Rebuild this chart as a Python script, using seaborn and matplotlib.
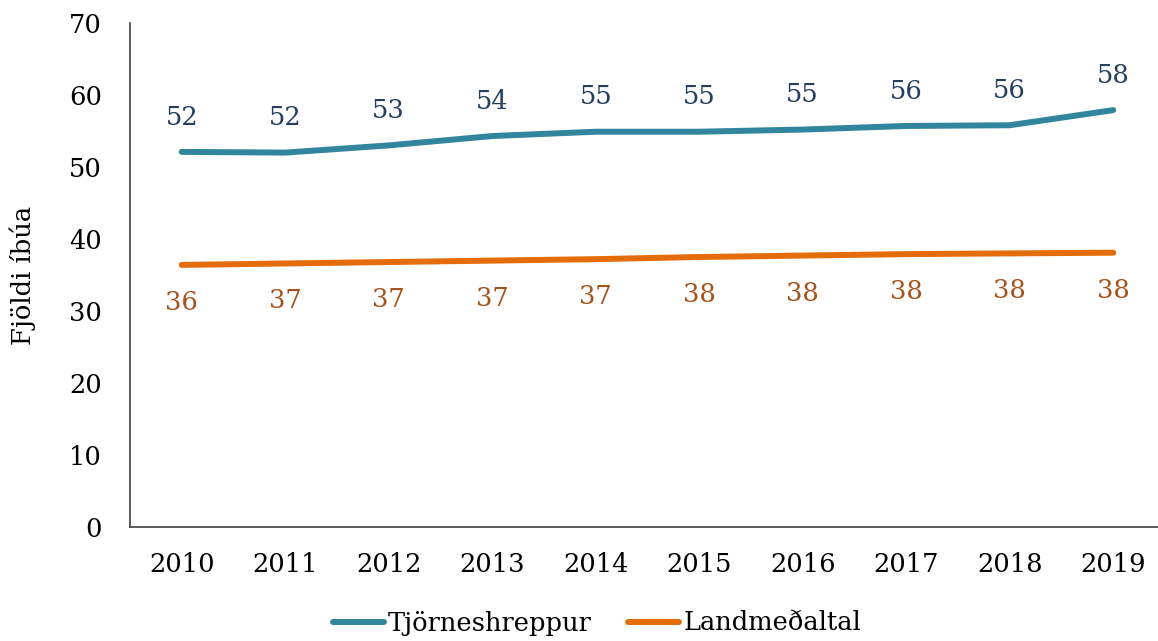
import matplotlib
matplotlib.use("Agg")
import matplotlib.pyplot as plt
import seaborn as sns
import pandas as pd

years = ["2010", "2011", "2012", "2013", "2014", "2015", "2016", "2017", "2018", "2019"]
tjornes = [52.1, 52.0, 53.0, 54.3, 54.9, 54.9, 55.2, 55.7, 55.8, 57.9]
landm = [36.4, 36.6, 36.8, 37.0, 37.2, 37.5, 37.7, 37.9, 38.0, 38.1]
series_names = ["Tjörneshreppur", "Landmeðaltal"]
line_colors = ["#31859C", "#E46C0A"]
label_colors = ["#243F60", "#A5531B"]

df = pd.DataFrame({
    "year": years * 2,
    "value": tjornes + landm,
    "series": [series_names[0]] * len(years) + [series_names[1]] * len(years),
})

sns.set_theme(style="white")
plt.rcParams["font.family"] = ["DejaVu Serif"]
plt.rcParams["text.color"] = "black"
plt.rcParams["axes.labelcolor"] = "black"

FS = 18.5

fig = plt.figure(figsize=(11.58, 6.41), dpi=100)
ax = fig.add_axes([130 / 1158, 114 / 641, 1035 / 1158, 504 / 641])

sns.lineplot(data=df, x="year", y="value", hue="series", palette=line_colors,
             linewidth=4.3, ax=ax, sort=False, legend=True)
for ln in ax.get_lines():
    ln.set_solid_capstyle("round")

for i, (y1, y2) in enumerate(zip(tjornes, landm)):
    ax.annotate(f"{y1:.0f}", (i, y1), xytext=(0, 25), textcoords="offset points",
                ha="center", va="center", fontsize=FS, color=label_colors[0])
    ax.annotate(f"{y2:.0f}", (i, y2), xytext=(0, -27), textcoords="offset points",
                ha="center", va="center", fontsize=FS, color=label_colors[1])

ax.set_xlim(-0.5, 9.5)
ax.set_ylim(0, 70)
ax.set_yticks(range(0, 71, 10))
ax.set_xlabel("")
ax.set_ylabel("Fjöldi íbúa", fontsize=FS, labelpad=24, color="black")
ax.tick_params(axis="both", labelsize=FS, length=0, colors="black")
ax.tick_params(axis="x", pad=18)
ax.tick_params(axis="y", pad=20)
for s in ["top", "right"]:
    ax.spines[s].set_visible(False)
for s in ["left", "bottom"]:
    ax.spines[s].set_color("#404040")
    ax.spines[s].set_linewidth(1.2)

leg = ax.legend(loc="center", bbox_to_anchor=(597 / 1158, 18 / 641),
                bbox_transform=fig.transFigure, ncol=2, frameon=False,
                fontsize=FS, handlelength=2.0, handletextpad=0.15, columnspacing=1.4)
for t in leg.get_texts():
    t.set_color("black")
for h in leg.legend_handles:
    h.set_linewidth(4.3)
    h.set_solid_capstyle("round")

fig.savefig("out.png", dpi=100)
